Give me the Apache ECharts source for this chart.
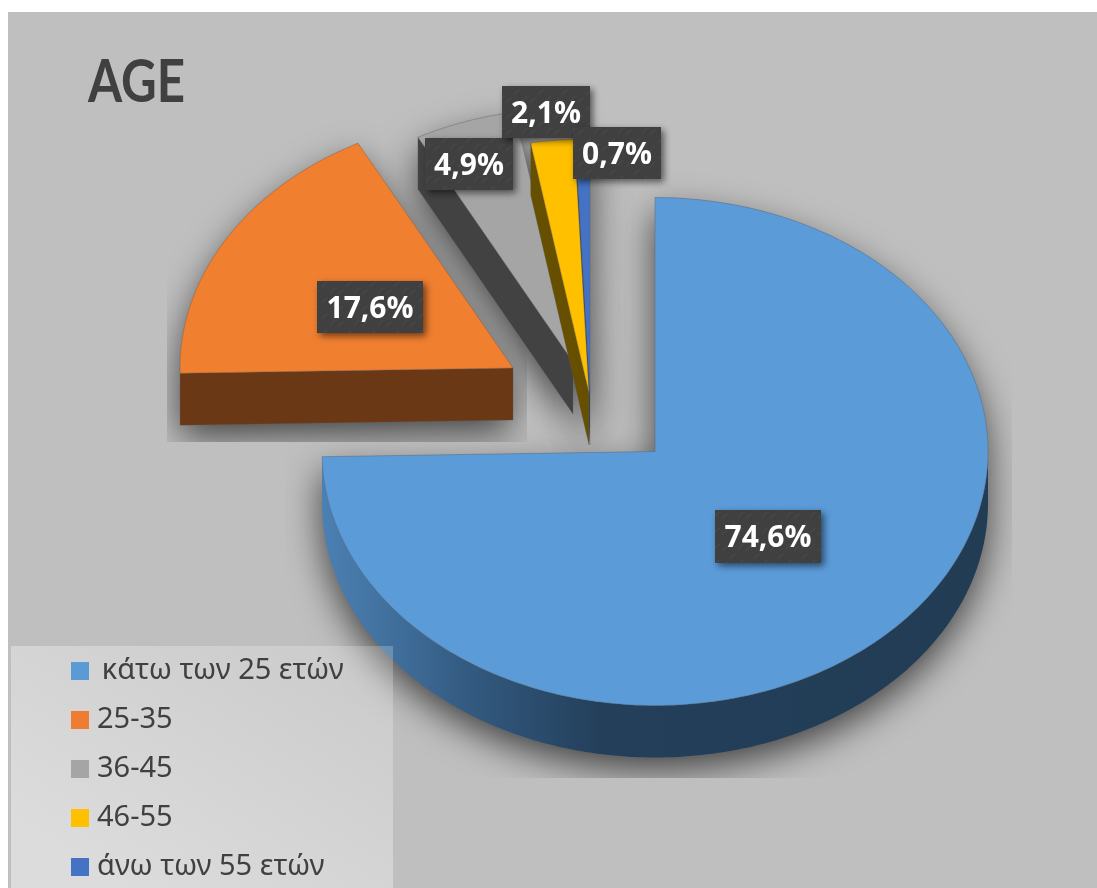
<!DOCTYPE html>
<html>
<head>
<meta charset="utf-8">
<title>AGE</title>
<script src="https://cdn.jsdelivr.net/npm/echarts@6/dist/echarts.min.js"></script>
<style>
    html, body { margin: 0; padding: 0; background: #fff; }
    #main { width: 1097px; height: 888px; }
</style>
</head>
<body>
<div id="main"></div>
<script>
// data
var categories = ['\u2009κάτω των 25 ετών', '25-35', '36-45', '46-55', 'άνω των 55 ετών'];
var shareValues = [74.6, 17.6, 4.9, 2.1, 0.7];

// look of each slice
var topColors = ['#5B9BD8', '#F07F30', '#A5A5A5', '#FFC000', '#4472C4'];
var legendColors = ['#5B9BD5', '#ED7D31', '#A5A5A5', '#FFC000', '#4472C4'];
var sideColors = ['#223C54', '#6A3815', '#424242', '#665000', '#263E70'];
// each slice is pulled away from the pie, so it has its own centre
var sliceCentres = [[655, 451.5], [513, 368], [573, 362], [589, 393], [590, 393]];
var labelBoxes = [[715, 510, 106, 53], [317, 281, 106, 52], [425, 138, 88, 52], [502, 86, 88, 52], [573, 127, 88, 52]];
var shadowClips = [[285, 170, 727, 608], [167, 120, 360, 322], [385, 80, 230, 370], [500, 100, 140, 360], [540, 100, 100, 360]];
var drawOrder = [1, 2, 4, 3, 0];

var RX = 333, RY = 254, DEPTH = 52;

function point(c, deg, dy) {
    var r = deg * Math.PI / 180;
    return [c[0] + RX * Math.sin(r), c[1] - RY * Math.cos(r) + (dy || 0)];
}

function arcPoints(c, a0, a1, dy) {
    var pts = [];
    for (var a = a0; a < a1; a += 1) {
        pts.push(point(c, a, dy));
    }
    pts.push(point(c, a1, dy));
    return pts;
}

function sliceAngles(i) {
    var total = shareValues.reduce(function (s, v) { return s + v; }, 0);
    var before = 0;
    for (var k = 0; k < i; k++) {
        before += shareValues[k];
    }
    return [before / total * 360, (before + shareValues[i]) / total * 360];
}

function topFace(c, a0, a1, dy) {
    return [[c[0], c[1] + (dy || 0)]].concat(arcPoints(c, a0, a1, dy));
}

function toPath(points) {
    return points.map(function (p, n) {
        return (n ? 'L' : 'M') + p[0].toFixed(1) + ' ' + p[1].toFixed(1);
    }).join(' ') + ' Z ';
}

// dark hatch on the label boxes
function makeHatch() {
    var cv = document.createElement('canvas');
    cv.width = 24;
    cv.height = 16;
    var ctx = cv.getContext('2d');
    ctx.fillStyle = '#404040';
    ctx.fillRect(0, 0, 24, 16);
    ctx.strokeStyle = 'rgba(255,255,255,0.07)';
    ctx.lineWidth = 1;
    [[2, 7], [10, 15], [18, 5]].forEach(function (p) {
        ctx.beginPath();
        ctx.moveTo(p[0], p[1]);
        ctx.lineTo(p[0] + 5, p[1] - 5);
        ctx.stroke();
    });
    return cv;
}
var hatch = makeHatch();

function sideFill(i) {
    if (i !== 0) {
        return sideColors[i];
    }
    return new echarts.graphic.LinearGradient(0, 0, 1, 0, [
        {offset: 0, color: '#4B80B3'},
        {offset: 0.12, color: '#3F6D99'},
        {offset: 0.22, color: '#335A80'},
        {offset: 0.42, color: '#233F5A'},
        {offset: 1, color: sideColors[0]}
    ]);
}

function renderSlice(i) {
    return function (params, api) {
        var c = sliceCentres[i];
        var ang = sliceAngles(i);
        var a0 = ang[0], a1 = ang[1];
        var children = [];
        var order = drawOrder.indexOf(i);

        // soft shadow of the whole solid, cut off at a box as in the original
        var shadowPath = '';
        for (var dy = 0; dy <= DEPTH; dy += 6) {
            shadowPath += toPath(topFace(c, a0, a1, dy));
        }
        var clip = shadowClips[i];
        children.push({
            type: 'path',
            z2: 1,
            shape: {pathData: shadowPath},
            clipPath: {type: 'rect', shape: {x: clip[0], y: clip[1], width: clip[2], height: clip[3]}},
            style: {
                fill: topColors[i],
                shadowBlur: 36,
                shadowColor: 'rgba(0,0,0,0.66)',
                shadowOffsetY: 16
            }
        });

        // cut face
        if (a0 > 180 && a0 < 360) {
            var p = point(c, a0);
            children.push({
                type: 'polygon',
                z2: 10 + order,
                shape: {points: [c, p, [p[0], p[1] + DEPTH], [c[0], c[1] + DEPTH]]},
                style: {fill: sideColors[i], stroke: 'rgba(90,90,90,0.5)', lineWidth: 0.5}
            });
        }
        // outer rim, only the front half shows
        var r0 = Math.max(a0, 90), r1 = Math.min(a1, 270);
        if (r1 > r0) {
            children.push({
                type: 'polygon',
                z2: 10 + order,
                shape: {points: arcPoints(c, r0, r1, 0).concat(arcPoints(c, r0, r1, DEPTH).reverse())},
                style: {fill: sideFill(i)}
            });
        }
        // top
        children.push({
            type: 'polygon',
            z2: 11 + order,
            shape: {points: topFace(c, a0, a1)},
            style: {fill: topColors[i], stroke: 'rgba(95,95,95,0.4)', lineWidth: 1}
        });

        // value label
        var box = labelBoxes[i];
        children.push({
            type: 'rect',
            z2: 100 + i * 2,
            shape: {x: box[0], y: box[1], width: box[2], height: box[3]},
            style: {
                fill: {image: hatch, repeat: 'repeat'},
                shadowBlur: 7,
                shadowColor: 'rgba(0,0,0,0.55)',
                shadowOffsetX: 3,
                shadowOffsetY: 3
            }
        });
        children.push({
            type: 'text',
            z2: 101 + i * 2,
            style: {
                text: api.value(0).toFixed(1).replace('.', ',') + '%',
                x: box[0] + box[2] / 2,
                y: box[1] + box[3] / 2 + 2,
                fill: '#fff',
                font: 'bold 30px "Open Sans"',
                align: 'center',
                verticalAlign: 'middle'
            }
        });
        return {type: 'group', children: children};
    };
}

var chart = echarts.init(document.getElementById('main'));
var option = {
    animation: false,
    legend: {
        data: categories,
        orient: 'vertical',
        left: 71,
        top: 656,
        padding: 0,
        itemWidth: 18,
        itemHeight: 18,
        itemGap: 19,
        icon: 'rect',
        selectedMode: false,
        z: 6,
        textStyle: {
            color: '#404040',
            fontFamily: '"Noto Sans"',
            fontSize: 29,
            lineHeight: 30,
            padding: [0, 0, 0, 3]
        }
    },
    graphic: [
        {
            type: 'rect',
            z: 0,
            shape: {x: 8, y: 12, width: 1089, height: 876},
            style: {fill: '#BFBFBF'}
        },
        {
            type: 'rect',
            z: 5,
            shape: {x: 11, y: 646, width: 382, height: 242},
            style: {
                fill: new echarts.graphic.LinearGradient(0.7, 0, 0.3, 1, [
                    {offset: 0, color: 'rgba(255,255,255,0.22)'},
                    {offset: 1, color: 'rgba(255,255,255,0.45)'}
                ])
            }
        },
        {
            // the original title face is narrow, so squeeze it a little
            type: 'text',
            z: 6,
            x: 88,
            y: 83,
            scaleX: 0.82,
            style: {
                text: 'AGE',
                fill: '#404040',
                font: 'bold 60px Lato',
                align: 'left',
                verticalAlign: 'middle'
            }
        }
    ],
    series: categories.map(function (name, i) {
        return {
            name: name,
            type: 'custom',
            coordinateSystem: 'none',
            silent: true,
            z: 2,
            clip: false,
            itemStyle: {color: legendColors[i]},
            data: [[shareValues[i]]],
            renderItem: renderSlice(i)
        };
    })
};
chart.setOption(option);
</script>
</body>
</html>
